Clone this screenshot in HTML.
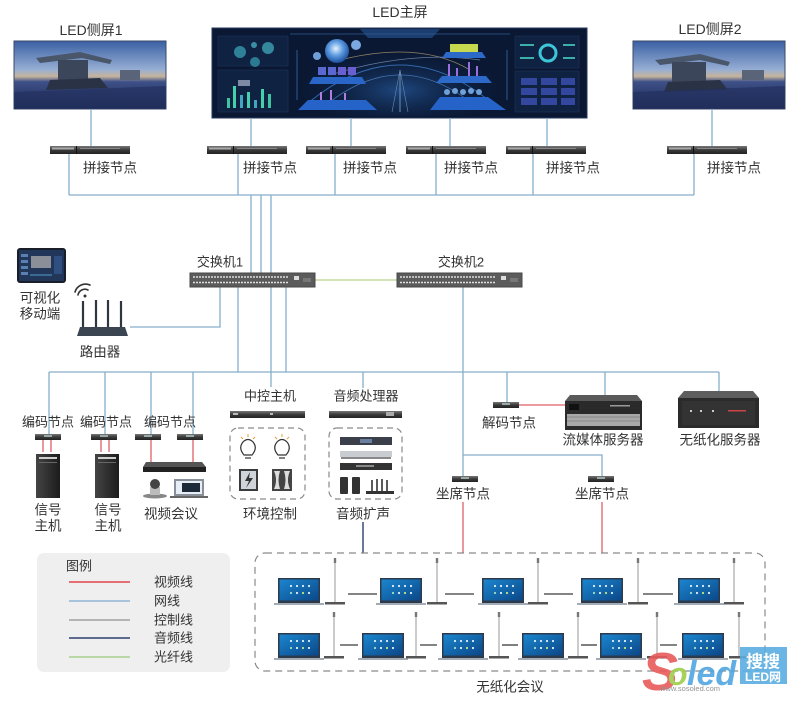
<!DOCTYPE html>
<html><head><meta charset="utf-8">
<style>
html,body{margin:0;padding:0;background:#fff;}
svg{display:block;}
text{font-family:"Liberation Sans","Noto Sans CJK SC",sans-serif;fill:#333;}
</style></head><body>
<svg width="800" height="705" viewBox="0 0 800 705" xmlns="http://www.w3.org/2000/svg">
<defs>
 <linearGradient id="sky" x1="0" y1="0" x2="0" y2="1">
  <stop offset="0" stop-color="#3a60a3"/>
  <stop offset="0.42" stop-color="#96aed4"/>
  <stop offset="0.52" stop-color="#c6b49c"/>
  <stop offset="0.6" stop-color="#3d5088"/>
  <stop offset="1" stop-color="#1d2850"/>
 </linearGradient>
 <linearGradient id="nodeg" x1="0" y1="0" x2="0" y2="1">
  <stop offset="0" stop-color="#777"/><stop offset="0.5" stop-color="#3a3a3a"/><stop offset="1" stop-color="#222"/>
 </linearGradient>
 <linearGradient id="lapg" x1="0" y1="0" x2="1" y2="1">
  <stop offset="0" stop-color="#1b86cf"/><stop offset="1" stop-color="#0b4788"/>
 </linearGradient>
 <linearGradient id="towg" x1="0" y1="0" x2="1" y2="0">
  <stop offset="0" stop-color="#444"/><stop offset="1" stop-color="#1c1c1c"/>
 </linearGradient>
 <radialGradient id="globe" cx="0.45" cy="0.4" r="0.6">
  <stop offset="0" stop-color="#e6f2ff"/><stop offset="0.5" stop-color="#5d9be0"/><stop offset="1" stop-color="#1d4f9c"/>
 </radialGradient>
 <radialGradient id="glow" cx="0.5" cy="0.7" r="0.5">
  <stop offset="0" stop-color="#2f6fc0" stop-opacity="0.55"/><stop offset="1" stop-color="#0a1833" stop-opacity="0"/>
 </radialGradient>
 <g id="lap">
  <rect x="0" y="0" width="42" height="25" fill="#2c3a4c"/>
  <rect x="1.5" y="1.5" width="39" height="21" fill="url(#lapg)"/>
  <circle cx="13" cy="8" r="1.1" fill="#dfefff"/><circle cx="19" cy="8" r="1.1" fill="#dfefff"/><circle cx="25" cy="8" r="1.1" fill="#dfefff"/><circle cx="31" cy="8" r="1.1" fill="#dfefff"/>
  <circle cx="13" cy="15" r="1.1" fill="#9fe0c0"/><circle cx="19" cy="15" r="1.1" fill="#dfefff"/><circle cx="25" cy="15" r="1.1" fill="#bfe87f"/><circle cx="31" cy="15" r="1.1" fill="#dfefff"/>
  <rect x="-4" y="25" width="50" height="2" fill="#a3abb5"/>
 </g>
 <g id="mic1">
  <line x1="0" y1="0" x2="0" y2="46" stroke="#a8a8a8" stroke-width="1.2"/>
  <rect x="-1.2" y="0" width="2.4" height="5" fill="#777"/>
  <rect x="-10" y="44" width="20" height="2.5" fill="#555"/>
 </g>
 <g id="snode">
  <rect x="0" y="0" width="80" height="8" fill="url(#nodeg)"/>
  <rect x="2" y="1.5" width="22" height="2" fill="#aaa"/>
  <rect x="26" y="0" width="1" height="8" fill="#111"/>
  <rect x="30" y="2" width="40" height="1" fill="#888"/>
 </g>
 <g id="enode">
  <rect x="0" y="0" width="26" height="6" fill="url(#nodeg)"/>
  <rect x="9" y="1" width="8" height="2" fill="#9aa"/>
 </g>
 <g id="sw">
  <rect x="0" y="0" width="125" height="14" fill="#5b5b5b" stroke="#474747"/>
  <line x1="3" y1="4" x2="98" y2="4" stroke="#e0e0e0" stroke-width="1.5" stroke-dasharray="2,1"/>
  <line x1="3" y1="9.5" x2="98" y2="9.5" stroke="#e0e0e0" stroke-width="1.5" stroke-dasharray="2,1"/>
  <rect x="104" y="3" width="5" height="4" fill="#ddd"/>
  <rect x="113" y="5" width="8" height="4" fill="#777"/>
 </g>
 <g id="tower">
  <rect x="0" y="0" width="24" height="44" fill="url(#towg)"/>
  <rect x="3" y="3" width="18" height="2" fill="#cfcfcf"/>
  <rect x="3" y="8" width="18" height="1" fill="#666"/>
 </g>
</defs>

<!-- TOP LABELS -->
<text x="91" y="30" font-size="14" text-anchor="middle" dominant-baseline="central">LED侧屏1</text>
<text x="400" y="12" font-size="14" text-anchor="middle" dominant-baseline="central">LED主屏</text>
<text x="710" y="29" font-size="14" text-anchor="middle" dominant-baseline="central">LED侧屏2</text>

<!-- side screen 1 -->
<g>
 <rect x="14" y="41" width="152" height="68" fill="url(#sky)" stroke="#3a4a6a"/>
 <polygon points="36,58 80,52 112,60 110,64 82,58 40,63" fill="#4a566a"/>
 <rect x="58" y="60" width="30" height="22" fill="#3c465a"/>
 <polygon points="50,80 100,78 108,88 46,90" fill="#2a3246"/>
 <rect x="120" y="70" width="20" height="10" fill="#5a6478"/>
 <polygon points="14,92 166,86 166,109 14,109" fill="#223060" opacity="0.7"/>
</g>
<!-- side screen 2 -->
<g>
 <rect x="633" y="41" width="152" height="68" fill="url(#sky)" stroke="#3a4a6a"/>
 <polygon points="655,60 700,54 730,62 728,66 700,60 660,65" fill="#4a566a"/>
 <rect x="672" y="62" width="34" height="22" fill="#3c465a"/>
 <polygon points="668,82 720,80 728,90 664,92" fill="#2a3246"/>
 <rect x="742" y="70" width="22" height="10" fill="#5a6478"/>
 <polygon points="633,92 785,86 785,109 633,109" fill="#223060" opacity="0.7"/>
</g>
<!-- main screen -->
<g>
 <rect x="212" y="28" width="375" height="90" fill="#0a1833" stroke="#24385c"/>
 <rect x="290" y="30" width="220" height="86" fill="url(#glow)"/>
 <polygon points="360,29 440,29 432,38 368,38" fill="#1c3d70"/>
 <line x1="290" y1="34" x2="510" y2="34" stroke="#2f5a90" stroke-width="0.8"/>
 <!-- left panel -->
 <rect x="218" y="36" width="70" height="30" fill="#0f2242" stroke="#1d3558" stroke-width="0.6"/>
 <circle cx="240" cy="52" r="6" fill="#2e8196"/><circle cx="255" cy="62" r="5" fill="#2b7a91"/><circle cx="268" cy="48" r="6" fill="#34889d"/><circle cx="254" cy="45" r="3" fill="#3a8fa5"/>
 <rect x="218" y="70" width="70" height="42" fill="#0f2242" stroke="#1d3558" stroke-width="0.6"/>
 <rect x="227" y="98" width="3" height="10" fill="#3fc2a0"/><rect x="233" y="86" width="3" height="22" fill="#44d0aa"/><rect x="240" y="95" width="3" height="13" fill="#3fa8c0"/><rect x="247" y="92" width="3" height="16" fill="#44d0aa"/><rect x="254" y="100" width="3" height="8" fill="#3fa8c0"/><rect x="261" y="89" width="3" height="19" fill="#44d0aa"/><rect x="268" y="94" width="3" height="14" fill="#3fc2a0"/>
 <rect x="238" y="80" width="12" height="6" fill="#7d8aa5"/>
 <!-- arcs center -->
 <path d="M300,110 Q400,20 500,110" fill="none" stroke="#3b78c4" stroke-width="1" opacity="0.8"/>
 <path d="M320,110 Q400,40 480,110" fill="none" stroke="#5a92d8" stroke-width="0.8" opacity="0.7"/>
 <path d="M340,60 Q420,40 470,70" fill="none" stroke="#c9b27a" stroke-width="0.8" opacity="0.7"/>
 <path d="M330,75 Q410,50 480,60" fill="none" stroke="#8aa5cf" stroke-width="0.8" opacity="0.7"/>
 <line x1="400" y1="70" x2="400" y2="112" stroke="#6d8fb5" stroke-width="1"/>
 <line x1="392" y1="112" x2="400" y2="70" stroke="#6d8fb5" stroke-width="0.6"/><line x1="408" y1="112" x2="400" y2="70" stroke="#6d8fb5" stroke-width="0.6"/>
 <!-- center left -->
 <circle cx="337" cy="51" r="12" fill="url(#globe)"/>
 <circle cx="356" cy="45" r="5" fill="#7aa8e0"/><circle cx="317" cy="56" r="4" fill="#6f9fd8"/>
 <rect x="318" y="67" width="8" height="8" fill="#5b68d0"/><rect x="328" y="67" width="8" height="8" fill="#5b68d0"/><rect x="338" y="67" width="8" height="8" fill="#6a5ed0"/><rect x="348" y="67" width="8" height="8" fill="#6a5ed0"/>
 <polygon points="313,77 362,77 366,84 309,84" fill="#2a66c8"/>
 <polygon points="308,100 366,100 377,110 298,110" fill="#2563c9"/>
 <rect x="320" y="92" width="2" height="8" fill="#b07ee0"/><rect x="330" y="90" width="2" height="10" fill="#b07ee0"/><rect x="344" y="93" width="2" height="7" fill="#b07ee0"/>
 <!-- center right -->
 <rect x="450" y="44" width="28" height="8" fill="#c6d84d"/>
 <polygon points="446,52 482,52 486,58 442,58" fill="#2d69c8"/>
 <rect x="448" y="64" width="2" height="12" fill="#9a6fe0"/><rect x="456" y="68" width="2" height="8" fill="#9a6fe0"/><rect x="468" y="62" width="2" height="14" fill="#9a6fe0"/><rect x="476" y="66" width="2" height="10" fill="#9a6fe0"/>
 <polygon points="442,76 486,76 492,83 436,83" fill="#2d69c8"/>
 <circle cx="447" cy="92" r="3" fill="#6fa0d8"/><circle cx="455" cy="91" r="3" fill="#6fa0d8"/><circle cx="463" cy="92" r="3" fill="#6fa0d8"/><circle cx="471" cy="91" r="3" fill="#6fa0d8"/><circle cx="479" cy="92" r="3" fill="#6fa0d8"/>
 <polygon points="440,97 488,97 506,110 430,110" fill="#2563c9"/>
 <!-- right panel -->
 <rect x="515" y="36" width="64" height="32" fill="#0f2242" stroke="#1d3558" stroke-width="0.6"/>
 <circle cx="548" cy="53" r="8" fill="none" stroke="#3cc6d8" stroke-width="3"/>
 <rect x="520" y="44" width="14" height="2" fill="#3cb0a8"/><rect x="520" y="57" width="14" height="2" fill="#3cb0a8"/><rect x="563" y="44" width="12" height="2" fill="#3cb0a8"/><rect x="563" y="57" width="12" height="2" fill="#3cb0a8"/>
 <rect x="515" y="71" width="64" height="41" fill="#0f2242" stroke="#1d3558" stroke-width="0.6"/>
 <rect x="521" y="78" width="16" height="7" fill="#34479e"/><rect x="541" y="78" width="16" height="7" fill="#34479e"/><rect x="561" y="78" width="14" height="7" fill="#34479e"/>
 <rect x="521" y="88" width="16" height="7" fill="#34479e"/><rect x="541" y="88" width="16" height="7" fill="#34479e"/><rect x="561" y="88" width="14" height="7" fill="#34479e"/>
 <rect x="521" y="98" width="16" height="7" fill="#34479e"/><rect x="541" y="98" width="16" height="7" fill="#34479e"/><rect x="561" y="98" width="14" height="7" fill="#34479e"/>
 <line x1="297" y1="50" x2="297" y2="100" stroke="#2f5a90"/><line x1="507" y1="50" x2="507" y2="100" stroke="#2f5a90"/>
</g>

<!-- NETWORK LINES (blue) -->
<g stroke="#86aecb" stroke-width="1.3" fill="none">
 <line x1="91" y1="109" x2="91" y2="146"/>
 <line x1="251" y1="118" x2="251" y2="146"/>
 <line x1="351" y1="118" x2="351" y2="146"/>
 <line x1="450" y1="118" x2="450" y2="146"/>
 <line x1="547" y1="118" x2="547" y2="146"/>
 <line x1="712" y1="109" x2="712" y2="146"/>
 <line x1="69" y1="154" x2="69" y2="195"/>
 <line x1="238" y1="154" x2="238" y2="195"/>
 <line x1="335" y1="154" x2="335" y2="195"/>
 <line x1="436" y1="154" x2="436" y2="195"/>
 <line x1="533" y1="154" x2="533" y2="195"/>
 <line x1="694" y1="154" x2="694" y2="195"/>
 <line x1="69" y1="195" x2="694" y2="195"/>
 <line x1="251" y1="195" x2="251" y2="273"/>
 <line x1="261" y1="195" x2="261" y2="273"/>
 <line x1="271" y1="195" x2="271" y2="387"/>
 <polyline points="220,287 220,327 130,327"/>
 <line x1="238" y1="287" x2="238" y2="372"/>
 <line x1="286" y1="287" x2="286" y2="372"/>
 <line x1="463" y1="287" x2="463" y2="477"/>
 <line x1="49" y1="372" x2="719" y2="372"/>
 <line x1="49" y1="372" x2="49" y2="434"/>
 <line x1="105" y1="372" x2="105" y2="434"/>
 <line x1="151" y1="372" x2="151" y2="434"/>
 <line x1="193" y1="372" x2="193" y2="434"/>
 <line x1="363" y1="372" x2="363" y2="388"/>
 <line x1="507" y1="372" x2="507" y2="402"/>
 <line x1="605" y1="372" x2="605" y2="396"/>
 <line x1="719" y1="372" x2="719" y2="392"/>
 <polyline points="463,455 602,455 602,477"/>
</g>
<!-- fiber -->
<line x1="315" y1="280" x2="397" y2="280" stroke="#b9d28c" stroke-width="1.3"/>

<!-- splice nodes -->
<use href="#snode" x="50" y="146"/>
<use href="#snode" x="207" y="146"/>
<use href="#snode" x="306" y="146"/>
<use href="#snode" x="406" y="146"/>
<use href="#snode" x="506" y="146"/>
<use href="#snode" x="667" y="146"/>
<g font-size="13.5" text-anchor="middle">
 <text x="110" y="168" dominant-baseline="central">拼接节点</text>
 <text x="270" y="168" dominant-baseline="central">拼接节点</text>
 <text x="370" y="168" dominant-baseline="central">拼接节点</text>
 <text x="471" y="168" dominant-baseline="central">拼接节点</text>
 <text x="573" y="168" dominant-baseline="central">拼接节点</text>
 <text x="734" y="168" dominant-baseline="central">拼接节点</text>
</g>

<!-- switches -->
<use href="#sw" x="190" y="273"/>
<use href="#sw" x="397" y="273"/>
<text x="220" y="262" font-size="13" text-anchor="middle" dominant-baseline="central">交换机1</text>
<text x="461" y="262" font-size="13" text-anchor="middle" dominant-baseline="central">交换机2</text>

<!-- mobile tablet -->
<rect x="17" y="248" width="49" height="35" rx="3" fill="#1a1e28"/>
<rect x="19" y="250" width="45" height="31" fill="#22365a"/>
<rect x="31" y="256" width="20" height="12" fill="#8a8f98"/>
<rect x="21" y="254" width="7" height="3" fill="#5a7fb0"/><rect x="21" y="260" width="7" height="3" fill="#5a7fb0"/><rect x="21" y="266" width="7" height="3" fill="#5a7fb0"/><rect x="21" y="272" width="7" height="3" fill="#5a7fb0"/>
<rect x="54" y="256" width="8" height="18" fill="#2f4f80"/>
<line x1="30" y1="275" x2="52" y2="275" stroke="#4fa0d0" stroke-width="1"/>
<text x="40" y="298" font-size="13.5" text-anchor="middle" dominant-baseline="central">可视化</text>
<text x="40" y="314" font-size="13.5" text-anchor="middle" dominant-baseline="central">移动端</text>
<!-- wifi -->
<g fill="none" stroke="#333" stroke-width="1.6" stroke-linecap="round">
 <path d="M75,292 A11,11 0 0 1 90,285"/>
 <path d="M78,295 A7,7 0 0 1 88,290"/>
</g>
<circle cx="85" cy="296" r="1.5" fill="#333"/>
<!-- router -->
<g stroke="#2f3640" stroke-width="2.2">
 <line x1="83" y1="327" x2="83" y2="301"/>
 <line x1="96" y1="327" x2="96" y2="300"/>
 <line x1="108" y1="327" x2="108" y2="300"/>
 <line x1="121" y1="327" x2="121" y2="301"/>
</g>
<polygon points="77,336 80,327 125,327 128,336" fill="#3b4552"/>
<text x="100" y="352" font-size="13.5" text-anchor="middle" dominant-baseline="central">路由器</text>

<!-- encoder section -->
<g font-size="13" text-anchor="middle">
 <text x="48" y="422" dominant-baseline="central">编码节点</text>
 <text x="106" y="422" dominant-baseline="central">编码节点</text>
 <text x="170" y="422" dominant-baseline="central">编码节点</text>
</g>
<use href="#enode" x="35" y="434"/>
<use href="#enode" x="91" y="434"/>
<use href="#enode" x="135" y="434"/>
<use href="#enode" x="177" y="434"/>
<g stroke="#e06068" stroke-width="1.3">
 <line x1="43" y1="440" x2="43" y2="452"/><line x1="51" y1="440" x2="51" y2="452"/>
 <line x1="101" y1="440" x2="101" y2="452"/><line x1="109" y1="440" x2="109" y2="452"/>
 <line x1="151" y1="440" x2="151" y2="462"/>
 <line x1="193" y1="440" x2="193" y2="462"/>
</g>
<use href="#tower" x="36" y="454"/>
<use href="#tower" x="95" y="454"/>
<g font-size="13.5" text-anchor="middle">
 <text x="48" y="510" dominant-baseline="central">信号</text>
 <text x="48" y="526" dominant-baseline="central">主机</text>
 <text x="108" y="510" dominant-baseline="central">信号</text>
 <text x="108" y="526" dominant-baseline="central">主机</text>
 <text x="171" y="514" dominant-baseline="central">视频会议</text>
</g>
<!-- VC box -->
<polygon points="146,462 202,462 206,467 143,467" fill="#555"/>
<rect x="143" y="467" width="63" height="5" fill="#222"/>
<!-- camera -->
<ellipse cx="155" cy="496" rx="12" ry="2.5" fill="#888"/>
<rect x="150" y="487" width="10" height="8" fill="#bbb"/>
<circle cx="155" cy="484" r="5" fill="#444"/>
<!-- laptop -->
<rect x="174" y="479" width="30" height="17" fill="#8a9099"/>
<rect x="176" y="481" width="26" height="13" fill="#e8eef5"/>
<rect x="182" y="483" width="18" height="9" fill="#1d2a3a"/>
<rect x="170" y="496" width="38" height="2" fill="#666"/>

<!-- control host -->
<text x="270" y="396" font-size="13" text-anchor="middle" dominant-baseline="central">中控主机</text>
<rect x="230" y="411" width="75" height="7" fill="url(#nodeg)"/>
<rect x="233" y="413" width="5" height="2" fill="#bbb"/><rect x="270" y="413" width="3" height="2" fill="#bbb"/>
<rect x="230" y="428" width="75" height="71" rx="8" fill="none" stroke="#8a8a8a" stroke-width="1.2" stroke-dasharray="6,4"/>
<g fill="none" stroke="#333" stroke-width="1.2">
 <path d="M244,455 Q238,448 243,442 Q248,437 253,442 Q258,448 252,455 Z"/>
 <line x1="245" y1="458" x2="251" y2="458"/>
 <path d="M278,455 Q272,448 277,442 Q282,437 287,442 Q292,448 286,455 Z"/>
 <line x1="279" y1="458" x2="285" y2="458"/>
</g>
<g stroke="#e0a030" stroke-width="1">
 <line x1="248" y1="434" x2="248" y2="437"/><line x1="241" y1="437" x2="243" y2="439"/><line x1="255" y1="437" x2="253" y2="439"/>
 <line x1="282" y1="434" x2="282" y2="437"/><line x1="275" y1="437" x2="277" y2="439"/><line x1="289" y1="437" x2="287" y2="439"/>
</g>
<rect x="239" y="469" width="19" height="22" fill="#3a3a3a"/>
<rect x="241" y="471" width="15" height="18" fill="#cfd4da"/>
<path d="M250,472 L245,481 L249,481 L246,488 L253,478 L249,478 Z" fill="#333"/>
<rect x="272" y="469" width="20" height="22" fill="#444"/>
<path d="M274,471 Q278,480 274,489 L280,489 Q277,480 280,471 Z" fill="#ddd"/>
<path d="M290,471 Q286,480 290,489 L284,489 Q287,480 284,471 Z" fill="#ddd"/>
<text x="270" y="514" font-size="13.5" text-anchor="middle" dominant-baseline="central">环境控制</text>

<!-- audio processor -->
<text x="366" y="396" font-size="13" text-anchor="middle" dominant-baseline="central">音频处理器</text>
<rect x="329" y="411" width="73" height="7" fill="url(#nodeg)"/>
<rect x="386" y="412" width="8" height="4" fill="#aaa"/>
<rect x="329" y="428" width="73" height="71" rx="8" fill="none" stroke="#8a8a8a" stroke-width="1.2" stroke-dasharray="6,4"/>
<rect x="340" y="437" width="52" height="8" fill="#3a3f4a"/><rect x="360" y="439" width="12" height="4" fill="#6a7fa0"/>
<rect x="340" y="451" width="52" height="6" fill="#c9ccd0"/><rect x="341" y="457" width="50" height="2" fill="#888"/>
<rect x="340" y="463" width="52" height="7" fill="#333"/><rect x="356" y="465" width="18" height="2" fill="#888"/>
<rect x="340" y="477" width="8" height="17" rx="1" fill="#333"/>
<rect x="352" y="477" width="8" height="17" rx="1" fill="#333"/>
<g stroke="#333" stroke-width="1.6">
 <line x1="372" y1="480" x2="372" y2="492"/><line x1="377" y1="479" x2="377" y2="492"/><line x1="382" y1="479" x2="382" y2="492"/><line x1="387" y1="480" x2="387" y2="492"/>
</g>
<rect x="366" y="491" width="28" height="3" fill="#333"/>
<text x="363" y="514" font-size="13.5" text-anchor="middle" dominant-baseline="central">音频扩声</text>
<line x1="363" y1="522" x2="363" y2="553" stroke="#2e3f6e" stroke-width="1.4"/>

<!-- decode + servers -->
<use href="#enode" x="493" y="402"/>
<line x1="519" y1="405" x2="565" y2="405" stroke="#e06068" stroke-width="1.3"/>
<text x="509" y="423" font-size="13.5" text-anchor="middle" dominant-baseline="central">解码节点</text>
<polygon points="570,395 637,395 642,401 565,401" fill="#5a5a5a"/>
<rect x="565" y="401" width="77" height="29" fill="#2a2a2a"/>
<rect x="569" y="404" width="10" height="6" fill="#111"/>
<rect x="610" y="405" width="20" height="1.5" fill="#999"/>
<rect x="567" y="414" width="73" height="12" fill="#a8a8a8"/>
<line x1="567" y1="417" x2="640" y2="417" stroke="#888"/><line x1="567" y1="421" x2="640" y2="421" stroke="#888"/>
<text x="603" y="440" font-size="13.5" text-anchor="middle" dominant-baseline="central">流媒体服务器</text>
<polygon points="684,391 753,391 759,398 678,398" fill="#5e5e5e"/>
<rect x="678" y="398" width="81" height="30" fill="#2b2b2b"/>
<rect x="682" y="401" width="73" height="24" fill="#333"/>
<rect x="690" y="410" width="2" height="2" fill="#ccc"/><rect x="700" y="410" width="2" height="2" fill="#ccc"/><rect x="712" y="410" width="2" height="2" fill="#ccc"/>
<rect x="728" y="410" width="18" height="1.5" fill="#c44"/>
<text x="720" y="440" font-size="13.5" text-anchor="middle" dominant-baseline="central">无纸化服务器</text>

<!-- seat nodes -->
<use href="#enode" x="452" y="476"/>
<use href="#enode" x="588" y="476"/>
<text x="463" y="494" font-size="13.5" text-anchor="middle" dominant-baseline="central">坐席节点</text>
<text x="602" y="494" font-size="13.5" text-anchor="middle" dominant-baseline="central">坐席节点</text>
<g stroke="#e06068" stroke-width="1.3">
 <line x1="463" y1="502" x2="463" y2="553"/>
 <line x1="602" y1="502" x2="602" y2="553"/>
</g>

<!-- legend -->
<rect x="37" y="553" width="193" height="119" rx="7" fill="#efefef"/>
<text x="79" y="566" font-size="13" text-anchor="middle" dominant-baseline="central">图例</text>
<line x1="69" y1="582" x2="130" y2="582" stroke="#e0474c" stroke-width="1.5"/>
<line x1="69" y1="601" x2="130" y2="601" stroke="#8fb6d6" stroke-width="1.5"/>
<line x1="69" y1="620" x2="130" y2="620" stroke="#a0a0a0" stroke-width="1.5"/>
<line x1="69" y1="638" x2="130" y2="638" stroke="#2e3f6e" stroke-width="1.5"/>
<line x1="69" y1="657" x2="130" y2="657" stroke="#a8cf8e" stroke-width="1.5"/>
<g font-size="13">
 <text x="154" y="582" dominant-baseline="central">视频线</text>
 <text x="154" y="601" dominant-baseline="central">网线</text>
 <text x="154" y="620" dominant-baseline="central">控制线</text>
 <text x="154" y="638" dominant-baseline="central">音频线</text>
 <text x="154" y="657" dominant-baseline="central">光纤线</text>
</g>

<!-- paperless meeting -->
<rect x="255" y="553" width="510" height="118" rx="10" fill="none" stroke="#8a8a8a" stroke-width="1.2" stroke-dasharray="7,5"/>
<!-- row 1 -->
<use href="#lap" x="278" y="578"/>
<use href="#lap" x="380" y="578"/>
<use href="#lap" x="482" y="578"/>
<use href="#lap" x="581" y="578"/>
<use href="#lap" x="678" y="578"/>
<use href="#mic1" x="335" y="558"/>
<use href="#mic1" x="437" y="558"/>
<use href="#mic1" x="538" y="558"/>
<use href="#mic1" x="638" y="558"/>
<use href="#mic1" x="734" y="558"/>
<g stroke="#3a3a3a" stroke-width="1.3">
 <line x1="348" y1="594" x2="377" y2="594"/>
 <line x1="445" y1="594" x2="474" y2="594"/>
 <line x1="544" y1="594" x2="573" y2="594"/>
 <line x1="643" y1="594" x2="673" y2="594"/>
</g>
<!-- row 2 -->
<use href="#lap" x="278" y="633"/>
<use href="#lap" x="362" y="633"/>
<use href="#lap" x="442" y="633"/>
<use href="#lap" x="522" y="633"/>
<use href="#lap" x="600" y="633"/>
<use href="#lap" x="682" y="633"/>
<use href="#mic1" x="334" y="612"/>
<use href="#mic1" x="416" y="612"/>
<use href="#mic1" x="499" y="612"/>
<use href="#mic1" x="578" y="612"/>
<use href="#mic1" x="657" y="612"/>
<use href="#mic1" x="739" y="612"/>
<g stroke="#3a3a3a" stroke-width="1.3">
 <line x1="340" y1="645" x2="358" y2="645"/>
 <line x1="420" y1="645" x2="437" y2="645"/>
 <line x1="502" y1="645" x2="518" y2="645"/>
 <line x1="581" y1="645" x2="597" y2="645"/>
 <line x1="660" y1="645" x2="677" y2="645"/>
</g>
<text x="510" y="687" font-size="13.5" text-anchor="middle" dominant-baseline="central">无纸化会议</text>

<!-- watermark -->
<g opacity="0.9">
 <text x="642" y="690" font-size="54" font-style="italic" font-weight="bold" style="fill:#e85a5a" font-family="Liberation Serif, serif">S</text>
 <text x="668" y="685" font-size="32" font-weight="bold" font-style="italic" style="fill:#9ccf4a">o</text>
 <text x="687" y="685" font-size="34" font-weight="bold" font-style="italic" style="fill:#4fa6e0">led</text>
 <text x="660" y="691" font-size="7.5" style="fill:#888">www.sosoled.com</text>
 <rect x="740" y="647" width="47" height="37" fill="#5aaee0"/>
 <text x="763" y="662" font-size="17" font-weight="bold" text-anchor="middle" dominant-baseline="central" style="fill:#fff">搜搜</text>
 <text x="763" y="677" font-size="12" font-weight="bold" text-anchor="middle" dominant-baseline="central" style="fill:#fff">LED网</text>
</g>
</svg>
</body></html>
